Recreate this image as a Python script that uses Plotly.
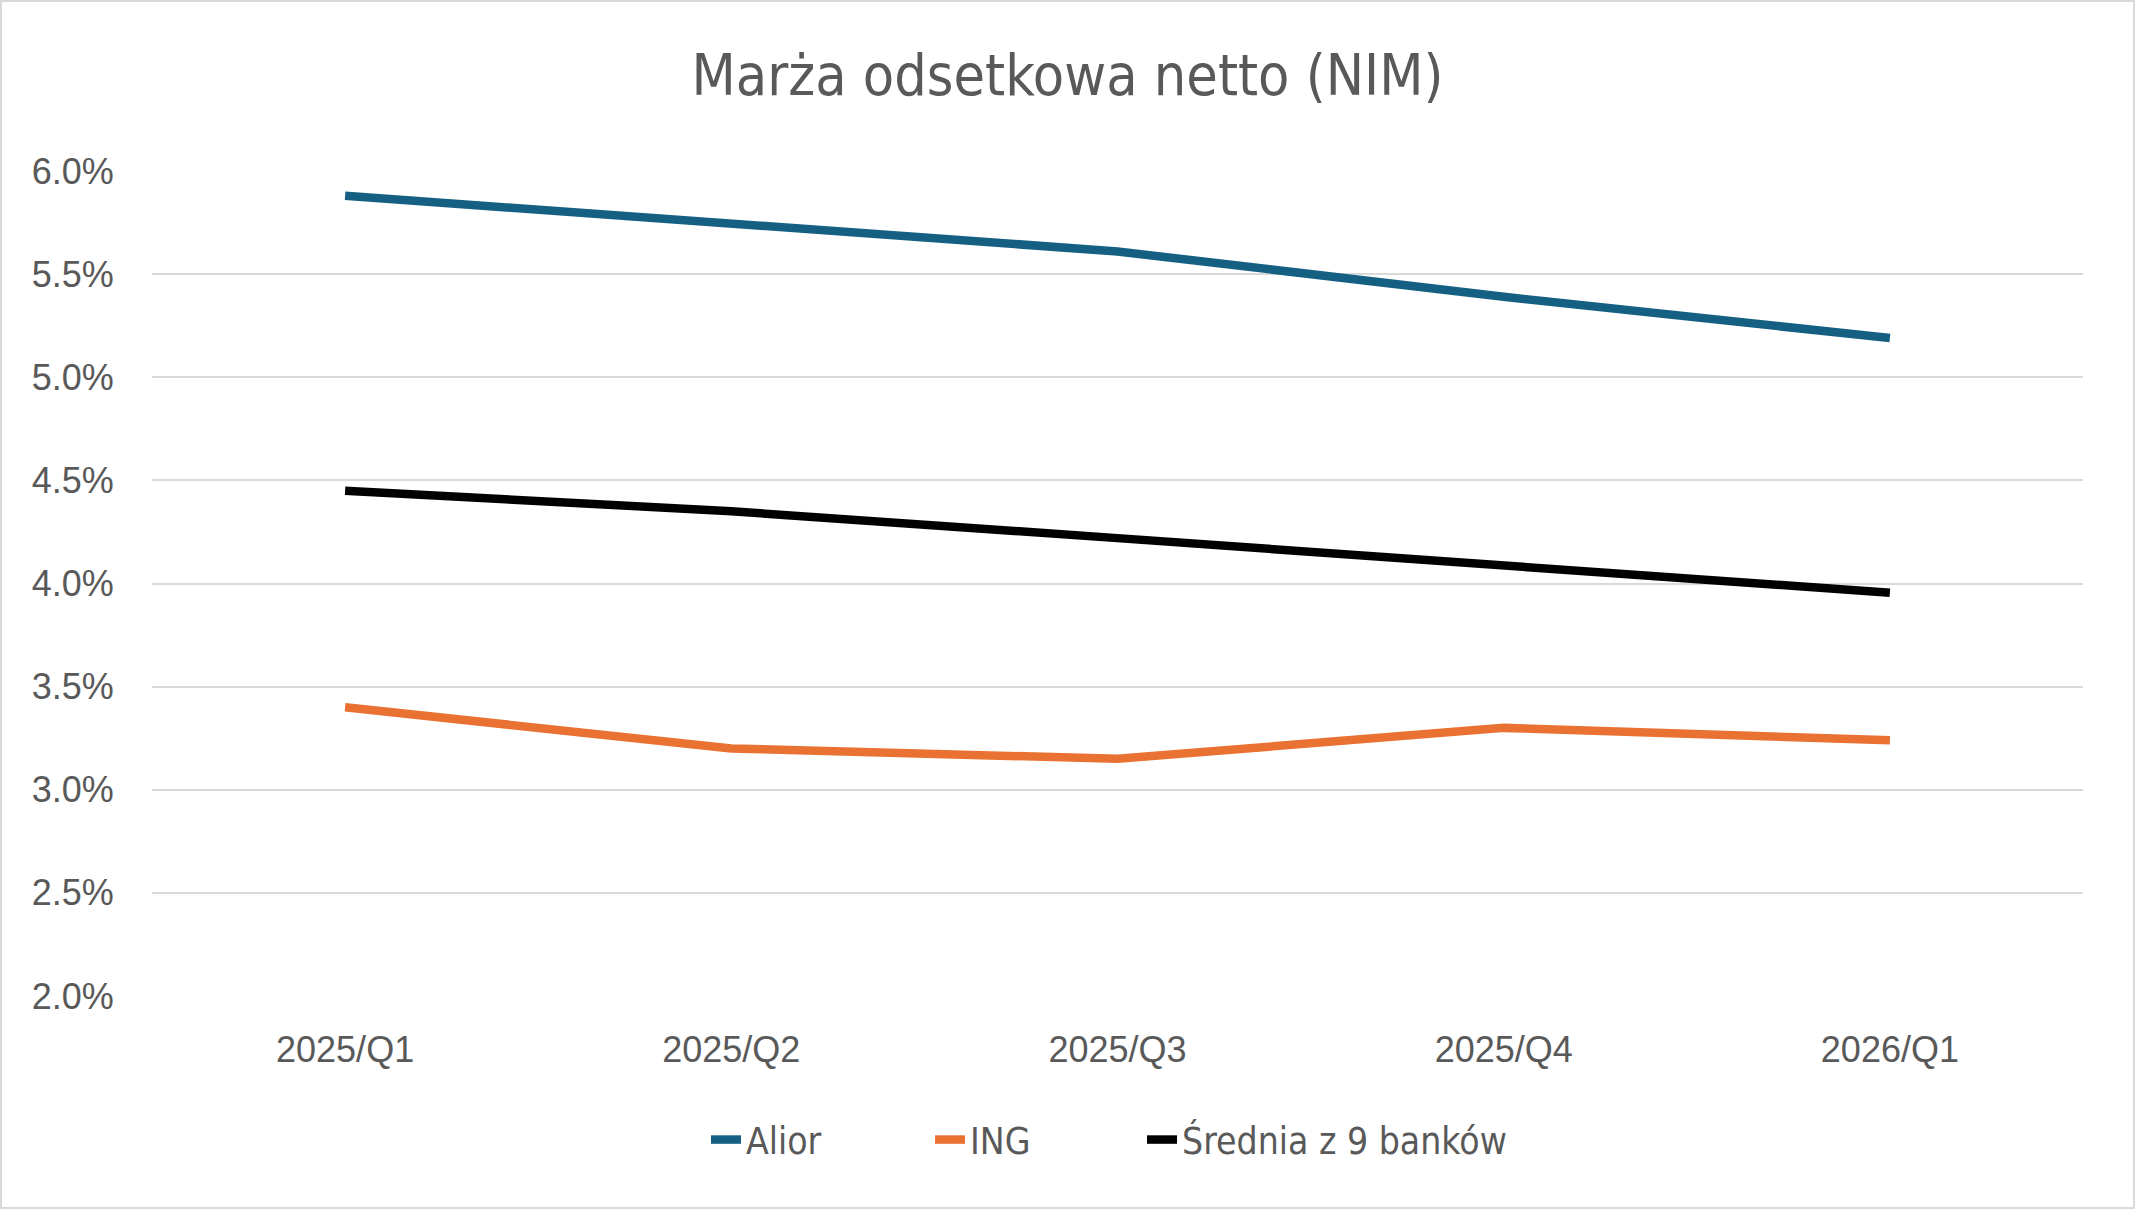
import plotly.graph_objects as go

categories = ["2025/Q1", "2025/Q2", "2025/Q3", "2025/Q4", "2026/Q1"]
alior = [5.88, 5.75, 5.61, 5.39, 5.19]
ing = [3.40, 3.20, 3.15, 3.30, 3.24]
srednia = [4.45, 4.35, 4.22, 4.09, 3.955]
y_ticks = [2.0, 2.5, 3.0, 3.5, 4.0, 4.5, 5.0, 5.5, 6.0]
y_tick_labels = [f"{v:.1f}%" for v in y_ticks]

W, H = 2135, 1209
ML, MR, MT, MB = 152, 52, 171, 213
PW, PH = W - ML - MR, H - MT - MB

narrow = "Liberation Sans Narrow, Arial Narrow, DejaVu Sans Condensed, sans-serif"
txt = "#595959"

series = [("Alior", alior, "#156082", "legend", 706),
          ("ING", ing, "#E97132", "legend2", 930),
          ("Średnia z 9 banków", srednia, "#000000", "legend3", 1142)]

fig = go.Figure()
for name, vals, col, leg, _ in series:
    fig.add_trace(go.Scatter(x=categories, y=vals, mode="lines", name=name,
                             legend=leg, line=dict(color=col, width=8.5)))

legend_y = -(1140 - (MT + PH)) / PH
legends = {}
for name, vals, col, leg, lx in series:
    legends[leg] = dict(orientation="h", x=(lx - ML) / PW, xanchor="left",
                        y=legend_y, yanchor="middle",
                        font=dict(family=narrow, size=37, color=txt),
                        itemwidth=30, bgcolor="rgba(0,0,0,0)")

fig.update_layout(
    width=W, height=H,
    margin=dict(l=ML, r=MR, t=MT, b=MB),
    paper_bgcolor="white", plot_bgcolor="white",
    title=dict(text="Marża odsetkowa netto (NIM)", x=0.5, xanchor="center",
               y=1 - 75 / H, yanchor="middle",
               font=dict(family=narrow, size=57, color=txt)),
    xaxis=dict(type="category", range=[-0.5, 4.5], showgrid=False, zeroline=False,
               showline=False, ticks="outside", ticklen=22, tickcolor="rgba(0,0,0,0)",
               tickfont=dict(family="Liberation Sans, Arial, sans-serif", size=36, color=txt)),
    yaxis=dict(range=[2.0, 6.0], tickvals=y_ticks, ticktext=y_tick_labels,
               showgrid=True, gridcolor="#D9D9D9", gridwidth=2, zeroline=False,
               showline=False, ticks="outside", ticklen=30, tickcolor="rgba(0,0,0,0)",
               tickfont=dict(family="Liberation Sans, Arial, sans-serif", size=36, color=txt)),
    showlegend=True,
    **legends,
)

fig.add_shape(type="rect", xref="paper", yref="paper",
              x0=(-ML + 1) / PW, x1=(PW + MR - 1) / PW,
              y0=(-MB + 1) / PH, y1=(PH + MT - 1) / PH,
              line=dict(color="#D9D9D9", width=2), fillcolor="rgba(0,0,0,0)", layer="below")

fig.write_html("out.html")
